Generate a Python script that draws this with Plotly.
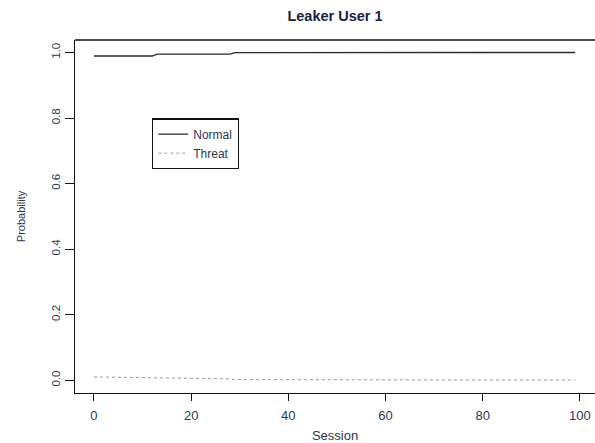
import plotly.graph_objects as go

# Data
sessions = [0, 5, 7, 9, 12, 13, 18, 28, 29, 52, 53, 99]
normal_prob = [0.989, 0.989, 0.989, 0.989, 0.989, 0.995, 0.995, 0.995, 0.9995, 0.9995, 1.0, 1.0]
threat_prob = [0.010, 0.009, 0.008, 0.008, 0.008, 0.006, 0.005, 0.004, 0.002, 0.002, 0.0003, 0.0003]
x_ticks = [0, 20, 40, 60, 80, 100]
y_ticks = [0.0, 0.2, 0.4, 0.6, 0.8, 1.0]
y_tick_labels = ["0.0", "0.2", "0.4", "0.6", "0.8", "1.0"]

txt = "#2e3752"
font = "Liberation Sans, Arial, Helvetica, sans-serif"

fig = go.Figure()
fig.add_trace(go.Scatter(x=sessions, y=normal_prob, mode="lines", name="Normal",
                         line=dict(color="#2a2a2a", width=1.4)))
fig.add_trace(go.Scatter(x=sessions, y=threat_prob, mode="lines", name="Threat",
                         line=dict(color="#9a9a9a", width=1.0, dash="dot")))

fig.update_layout(
    width=595, height=443,
    margin=dict(l=75, r=0, t=40, b=50, autoexpand=False),
    paper_bgcolor="white", plot_bgcolor="white",
    font=dict(family=font, color=txt, size=11),
    title=dict(text="<b>Leaker User 1</b>", x=0.5, xref="paper", xanchor="center",
               y=1 - 16 / 443, yref="container", yanchor="middle",
               font=dict(size=14.5, color="#1c2240")),
    showlegend=True,
    legend=dict(x=0.148, y=0.778, xanchor="left", yanchor="top",
                bordercolor="#111", borderwidth=1.3, bgcolor="white",
                font=dict(size=12, color=txt), tracegroupgap=0,
                itemwidth=30),
    shapes=[dict(type="line", xref="paper", yref="paper", x0=0, x1=1, y0=1, y1=1,
                 line=dict(color="#111", width=1.3))],
)
fig.update_xaxes(range=[-3.9, 103.1], tickvals=x_ticks, ticks="outside", ticklen=7,
                 tickwidth=1.3, tickcolor="#111", showline=True, linecolor="#111",
                 linewidth=1.3, showgrid=False, zeroline=False, automargin=False,
                 title=dict(text="Session", font=dict(size=13), standoff=12),
                 tickfont=dict(size=13), ticklabelstandoff=3)
fig.update_yaxes(range=[-0.039, 1.038], tickvals=y_ticks, ticktext=y_tick_labels,
                 ticks="outside", ticklen=9, tickwidth=1.3, tickcolor="#111",
                 showline=True, linecolor="#111", linewidth=1.3, showgrid=False,
                 zeroline=False, tickangle=-90, automargin=False,
                 title=dict(text="Probability", font=dict(size=11), standoff=22),
                 tickfont=dict(size=11.5))

fig.write_html("out.html", config={"displayModeBar": False},
               post_script="document.body.style.margin='0';document.body.style.overflow='hidden';")
